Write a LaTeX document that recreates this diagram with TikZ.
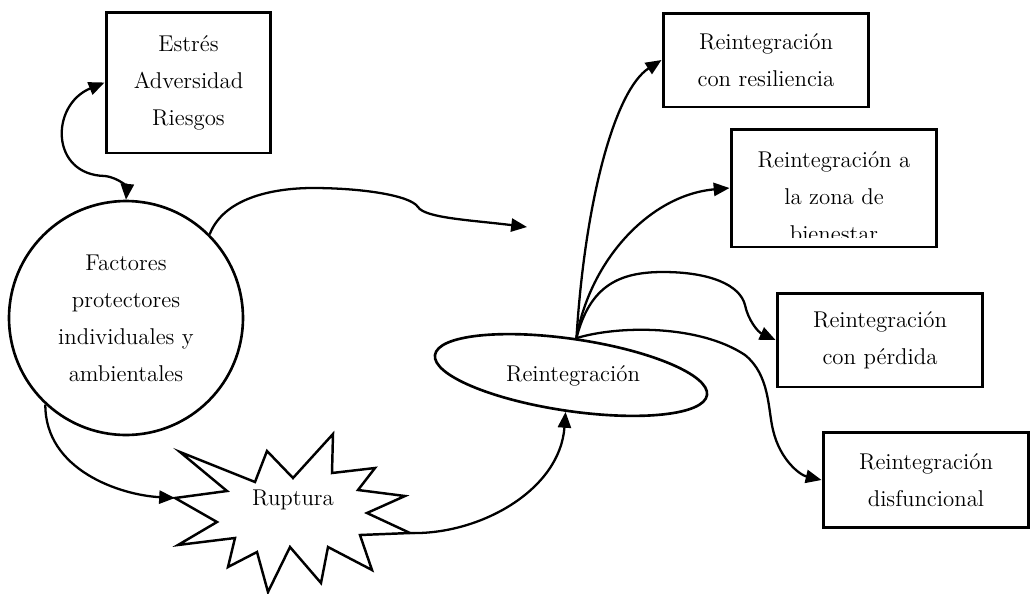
\documentclass[tikz,border=0pt]{standalone}
\usepackage{tikz}
\usetikzlibrary{shapes.geometric, arrows.meta, positioning}

\begin{document}
\begin{tikzpicture}[x=0.02cm, y=-0.02cm,
  font=\fontsize{13}{21}\selectfont,
  box/.style={draw, line width=1.7pt, align=center, inner sep=0pt, minimum width=4.12cm, minimum height=1.88cm},
  flow/.style={->, line width=1.3pt},
  >={Triangle[length=9pt, width=7.5pt]}]
  \useasboundingbox (0,0) rectangle (1036,593);
  % left side
  \node[box, minimum width=3.3cm, minimum height=2.82cm] (S) at (188.5,82.5) {Estrés\\Adversidad\\Riesgos};
  \node[circle, draw, line width=1.5pt, minimum size=4.68cm, align=center, inner sep=0pt] (F) at (126,318) {Factores\\protectores\\individuales y\\ambientales};
  \draw[line width=1.4pt, line join=miter] (175,498) -- (227,491) -- (180,452) -- (255,482) -- (267,451) -- (293,478)
    -- (333,434) -- (332,473) -- (375,468) -- (358,490) -- (405,496) -- (367,513) -- (410,533) -- (360,535)
    -- (372,570) -- (328,547) -- (321,583) -- (290,547) -- (268,592) -- (257,552) -- (228,567) -- (235,538)
    -- (178,545) -- (217,522) -- cycle;
  \node (U) at (293,500) {Ruptura};
  \coordinate (Uw) at (175,498);
  \coordinate (Ue) at (410,533);
  \coordinate (open) at (527,227);
  % reintegration
  \node[ellipse, draw, line width=1.5pt, minimum width=5.5cm, minimum height=1.44cm, rotate=-8.4, inner sep=0pt] (R) at (571,375) {};
  \node (Rt) at (573,376) {Reintegración};
  \node[box] (R1) at (766,60) {Reintegración\\con resiliencia};
  \node[box, minimum height=2.36cm, path picture={
      \clip (path picture bounding box.north west) rectangle ([yshift=0.18cm]path picture bounding box.south east);
      \node[draw=none, align=center, inner sep=0pt, minimum size=0pt] at ([yshift=-0.18cm]path picture bounding box.center) {Reintegración a\\la zona de\\bienestar};}] (R2) at (834,188) {};
  \node[box] (R3) at (880,340) {Reintegración\\con pérdida};
  \node[box, minimum height=1.9cm] (R4) at (926,480) {Reintegración\\disfuncional};
  % connectors
  \draw[<->, line width=1.3pt] (S.west) .. controls (50,105) and (50,175) .. (105,176) .. controls (120,178) and (127,188) .. (F.north);
  \draw[flow] (F.45) .. controls (225,195) and (280,188) .. (313,188) .. controls (360,188) and (410,195) .. (418,207)
    .. controls (425,218) and (470,220) .. (open);
  \draw[flow] (F.227) .. controls (45,470) and (120,495) .. (Uw);
  \draw[flow] (Ue) .. controls (480,535) and (560,490) .. (R.south);
  \draw[flow] (R.north) .. controls (585,200) and (615,90) .. (R1.west);
  \draw[flow] (R.north) .. controls (590,260) and (650,195) .. (R2.west);
  \draw[flow] (R.north) .. controls (590,285) and (620,272) .. (663,272) .. controls (710,272) and (740,285) .. (745,305)
    .. controls (748,320) and (758,332) .. (R3.west);
  \draw[flow] (R.north) .. controls (620,325) and (700,325) .. (745,355) .. controls (770,375) and (768,410) .. (773,430)
    .. controls (780,460) and (800,475) .. (R4.west);
\end{tikzpicture}
\end{document}
